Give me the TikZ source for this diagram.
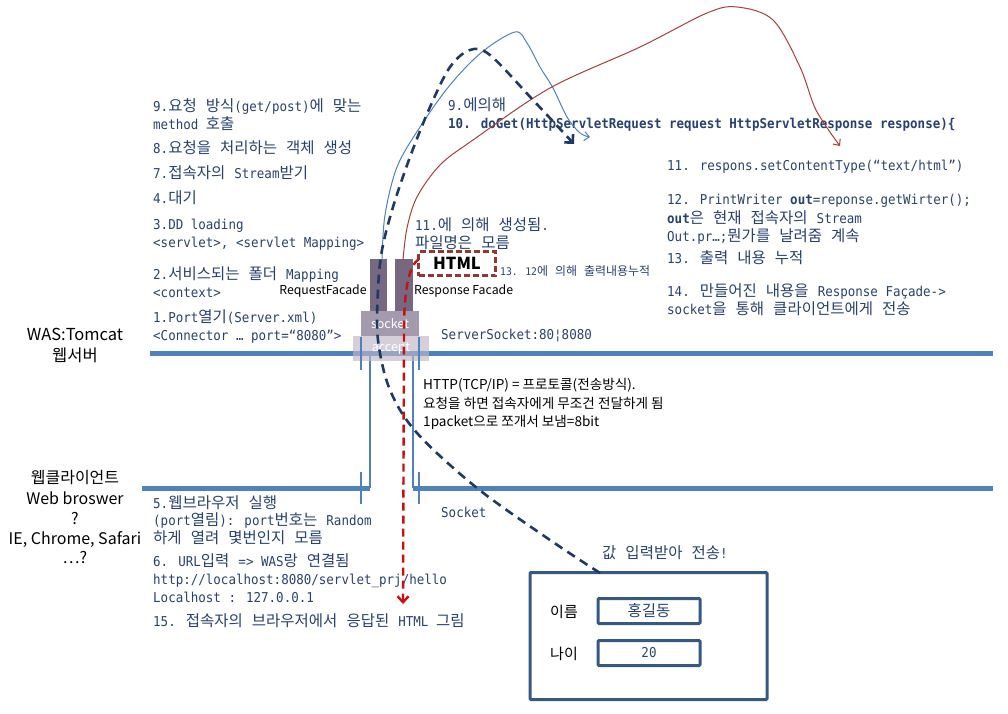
\documentclass[tikz,border=0pt]{standalone}
\usepackage{fontspec}
\usetikzlibrary{arrows.meta}
\setmainfont{Noto Sans CJK KR}
\newfontfamily\krs{Noto Sans CJK KR}
\newfontfamily\mK[Scale=1.14,WordSpace=2.6]{Noto Sans CJK KR}
\newfontfamily\mL[FakeStretch=0.92]{DejaVu Sans Mono}
% automatic switching Latin mono <-> Hangul
\def\myLfont{}\def\myKfont{}
\XeTeXinterchartokenstate=1
\chardef\KRclass=77
\newcount\krc
\krc="AC00
\loop
  \XeTeXcharclass\krc=\KRclass
  \ifnum\krc<"D7A3
  \advance\krc by 1
\repeat
\XeTeXinterchartoks 0 77 = {\myKfont}
\XeTeXinterchartoks 1 77 = {\myKfont}
\XeTeXinterchartoks 2 77 = {\myKfont}
\XeTeXinterchartoks 3 77 = {\myKfont}
\XeTeXinterchartoks 4095 77 = {\myKfont}
\XeTeXinterchartoks 77 0 = {\myLfont}
\XeTeXinterchartoks 77 1 = {\myLfont}
\XeTeXinterchartoks 77 2 = {\myLfont}
\XeTeXinterchartoks 77 3 = {\myLfont}
\XeTeXinterchartoks 4095 0 = {\myLfont}
\XeTeXinterchartoks 4095 1 = {\myLfont}
\XeTeXinterchartoks 4095 2 = {\myLfont}
\XeTeXinterchartoks 4095 3 = {\myLfont}
\newcommand\monoset{\def\myLfont{\mL}\def\myKfont{\mK}\fontsize{13.6}{16}\mL}
\newcommand\sansset{\def\myLfont{\krs}\def\myKfont{\krs}\krs}
\definecolor{txtblue}{RGB}{40,66,112}
\definecolor{barblue}{RGB}{79,129,189}
\definecolor{navyd}{RGB}{31,56,100}
\definecolor{formblue}{RGB}{56,88,132}
\definecolor{rectdark}{RGB}{117,104,128}
\definecolor{sockgray}{RGB}{163,155,173}
\definecolor{accgray}{RGB}{190,182,198}
\definecolor{htmlred}{RGB}{148,54,52}
\definecolor{brightred}{RGB}{200,16,16}
\definecolor{curvered}{RGB}{165,64,60}
\tikzset{
  mono/.style={font=\monoset, text=txtblue, inner sep=0pt, anchor=base west},
  monob/.style={font={\monoset\bfseries}, text=txtblue, inner sep=0pt, anchor=base west},
  monosmall/.style={font={\def\myLfont{\mL}\def\myKfont{\mK}\fontsize{10.5}{12}\mL}, text=txtblue, inner sep=0pt, anchor=base west},
  sansbig/.style={font={\sansset\fontsize{16.5}{20}\selectfont}, text=black, inner sep=0pt, anchor=base},
  sansmid/.style={font={\sansset\fontsize{13.6}{16}\selectfont}, text=black, inner sep=0pt, anchor=base west},
  sanssmall/.style={font={\sansset\fontsize{12.3}{14}\selectfont}, text=black, inner sep=0pt, anchor=base west},
  bar/.style={line width=5pt, barblue},
  tickln/.style={line width=2.2pt, barblue},
  thinv/.style={line width=1.3pt, barblue},
  facade/.style={fill=rectdark, minimum width=17pt, minimum height=52pt, inner sep=0pt},
  sockbox/.style={fill=sockgray, minimum width=58pt, minimum height=25pt, inner sep=0pt, text=white, font={\sansset\fontsize{12.5}{14}\selectfont}},
  accbox/.style={fill=accgray, fill opacity=0.65, text opacity=1, minimum width=76pt, minimum height=25pt, inner sep=0pt, text=white, font={\sansset\fontsize{12.5}{14}\selectfont}},
  htmlbox/.style={draw=htmlred, line width=2.2pt, dash pattern=on 6pt off 3pt, minimum width=77pt, minimum height=24pt, inner sep=0pt, font={\sansset\bfseries\fontsize{16.5}{18}\selectfont}},
  formbox/.style={draw=formblue, line width=3pt, rounded corners=1pt, inner sep=0pt},
  navydash/.style={navyd, line width=2.6pt, dash pattern=on 9pt off 6pt, -{Straight Barb[length=6pt,width=12pt]}},
  reddash/.style={brightred, line width=2.4pt, dash pattern=on 8pt off 5pt, -{Straight Barb[length=6pt,width=11pt]}},
  bluethin/.style={barblue, line width=1pt, -{Straight Barb[length=5pt,width=9pt]}},
  redthin/.style={curvered, line width=1pt, -{Straight Barb[length=5pt,width=9pt]}},
}
\begin{document}
\begin{tikzpicture}[x=1pt,y=-1pt]
\useasboundingbox (0,0) rectangle (1008,713);
\fill[white] (0,0) rectangle (1008,713);

% bars
\coordinate (barAL) at (150,353); \coordinate (barAR) at (993,353);
\draw[bar] (barAL) -- (barAR);
\coordinate (barBL) at (142,488); \coordinate (barBM1) at (370,488);
\coordinate (barBM2) at (413,488); \coordinate (barBR) at (993,488);
\draw[bar] (barBL) -- (barBM1);
\draw[bar] (barBM2) -- (barBR);
\coordinate (vLtop) at (370,355); \coordinate (vRtop) at (413,355);
\draw[thinv] (vLtop) -- (barBM1);
\draw[thinv] (vRtop) -- (barBM2);

% facades, socket, accept
\node[facade] (reqF) at (378.5,285) {};
\node[facade, minimum width=18pt] (resF) at (404,285) {};
\node[sockbox] (sock) at (390,323.5) {socket};
\node[accbox] (acc) at (391,348.5) {accept};

% ticks
\coordinate (t1a) at (361,337); \coordinate (t1b) at (361,370);
\coordinate (t2a) at (419,337); \coordinate (t2b) at (419,370);
\coordinate (t3a) at (361,472); \coordinate (t3b) at (361,504);
\coordinate (t4a) at (419,472); \coordinate (t4b) at (419,504);
\draw[tickln] (t1a) -- (t1b);
\draw[tickln] (t2a) -- (t2b);
\draw[tickln] (t3a) -- (t3b);
\draw[tickln] (t4a) -- (t4b);

% HTML box
\node[htmlbox] (html) at (457,263.5) {HTML};

% form
\node[formbox, minimum width=237pt, minimum height=127pt] (form) at (648.5,636) {};
\node[formbox, minimum width=102pt, minimum height=25pt, font=\monoset, text=txtblue] (nameBox) at (649,611) {홍길동};
\node[formbox, minimum width=102pt, minimum height=25pt, font=\monoset, text=txtblue] (ageBox) at (649,653) {20};
\node[sansmid, anchor=center, font={\sansset\fontsize{15}{16}\selectfont}] (nameLbl) at (564,612) {이름};
\node[sansmid, anchor=center, font={\sansset\fontsize{15}{16}\selectfont}] (ageLbl) at (564,654) {나이};

% left column mono text
\node[mono] (m1) at (153,111) {9.요청 방식(get/post)에 맞는};
\node[mono] (m2) at (153,129) {method 호출};
\node[mono] (m3) at (153,153) {8.요청을 처리하는 객체 생성};
\node[mono] (m4) at (153,178) {7.접속자의 Stream받기};
\node[mono] (m5) at (153,203) {4.대기};
\node[mono] (m6) at (153,229) {3.DD loading};
\node[mono] (m7) at (153,247) {<servlet>, <servlet Mapping>};
\node[mono] (m8) at (153,279) {2.서비스되는 폴더 Mapping};
\node[mono] (m9) at (153,297) {<context>};
\node[mono] (m10) at (153,322) {1.Port열기(Server.xml)};
\node[mono] (m11) at (153,340) {<Connector … port=“8080”>};

\node[mono] (m12) at (448,110) {9.에의해};
\node[monob] (m13) at (448,128) {10. doGet(HttpServletRequest request HttpServletResponse response)\{};

\node[mono] (r1) at (667,170) {11. respons.setContentType(“text/html”)};
\node[mono] (r2) at (667,204) {12. PrintWriter \textbf{out}=reponse.getWirter();};
\node[mono] (r3) at (667,223) {\textbf{out}은 현재 접속자의 Stream};
\node[mono] (r4) at (667,241) {Out.pr…;뭔가를 날려줌 계속};
\node[mono] (r5) at (667,263) {13. 출력 내용 누적};
\node[mono] (r6) at (667,296) {14. 만들어진 내용을 Response Façade->};
\node[mono] (r7) at (667,314) {socket을 통해 클라이언트에게 전송};

\node[mono] (h1) at (415,230) {11.에 의해 생성됨.};
\node[mono] (h2) at (415,248) {파일명은 모름};
\node[monosmall] (h3) at (500,275) {13. 12에 의해 출력내용누적};

\node[sanssmall, anchor=base] (reqLbl) at (323,294) {RequestFacade};
\node[sanssmall] (resLbl) at (414,294) {Response Facade};

\node[mono] (ssock) at (441,339) {ServerSocket:80¦8080};
\node[mono] (csock) at (441,517) {Socket};

% left labels
\node[sansbig] (was1) at (75,340) {WAS:Tomcat};
\node[sansbig] (was2) at (75,361) {웹서버};
\node[sansbig, font={\sansset\fontsize{16}{20}\selectfont}] (wc1) at (75,483) {웹클라이언트};
\node[sansbig, font={\sansset\fontsize{16}{20}\selectfont}] (wc2) at (75,504) {Web broswer};
\node[sansbig, font={\sansset\fontsize{16}{20}\selectfont}] (wc3) at (75,524) {?};
\node[sansbig, font={\sansset\fontsize{16}{20}\selectfont}] (wc4) at (75,544) {IE, Chrome, Safari};
\node[sansbig, font={\sansset\fontsize{16}{20}\selectfont}] (wc5) at (75,563) {…?};

% HTTP text
\node[sansmid] (http1) at (423,389) {HTTP(TCP/IP) = 프로토콜(전송방식).};
\node[sansmid] (http2) at (423,408) {요청을 하면 접속자에게 무조건 전달하게 됨};
\node[sansmid] (http3) at (423,426) {1packet으로 쪼개서 보냄=8bit};

% bottom mono text
\node[mono] (b1) at (153,508) {5.웹브라우저 실행};
\node[mono] (b2) at (153,525) {(port열림): port번호는 Random};
\node[mono] (b3) at (153,543) {하게 열려 몇번인지 모름};
\node[mono] (b4) at (153,566) {6. URL입력 => WAS랑 연결됨};
\node[mono] (b5) at (153,584) {http://localhost:8080/servlet\_prj/hello};
\node[mono] (b6) at (153,602) {Localhost : 127.0.0.1};
\node[mono] (b7) at (153,626) {15. 접속자의 브라우저에서 응답된 HTML 그림};
\node[mono] (val) at (602,558) {값 입력받아 전송!};

% curves
\coordinate (bStart) at (382,259);
\coordinate (bEnd) at (590,137);
\draw[bluethin] plot[smooth, tension=0.55] coordinates {(bStart) (385,215) (397,167) (420,127) (450,85) (482,52) (515,32) (527,43) (540,67) (553,88) (567,117) (580,133) (bEnd)};

\coordinate (rStart) at (403,260);
\coordinate (rEnd) at (840,146);
\draw[redthin] plot[smooth, tension=0.55] coordinates {(rStart) (407,228) (417,197) (440,165) (473,140) (550,88) (640,47) (707,13) (737,7) (773,20) (800,67) (816,110) (rEnd)};

\coordinate (dStart) at (600,573);
\coordinate (dEnd) at (574,144);
\draw[navydash] plot[smooth, tension=0.55] coordinates {(dStart) (550,540) (477,488) (417,433) (390,390) (378,340) (378,290) (382,250) (393,207) (410,157) (430,107) (450,67) (470,50) (490,55) (533,100) (dEnd)};

\coordinate (rdStart) at (419,259);
\coordinate (rdMid) at (404,330);
\coordinate (rdEnd) at (403,604);
\draw[reddash] (rdStart) .. controls (409,265) and (404,290) .. (rdMid) -- (rdEnd);
\end{tikzpicture}
\end{document}
